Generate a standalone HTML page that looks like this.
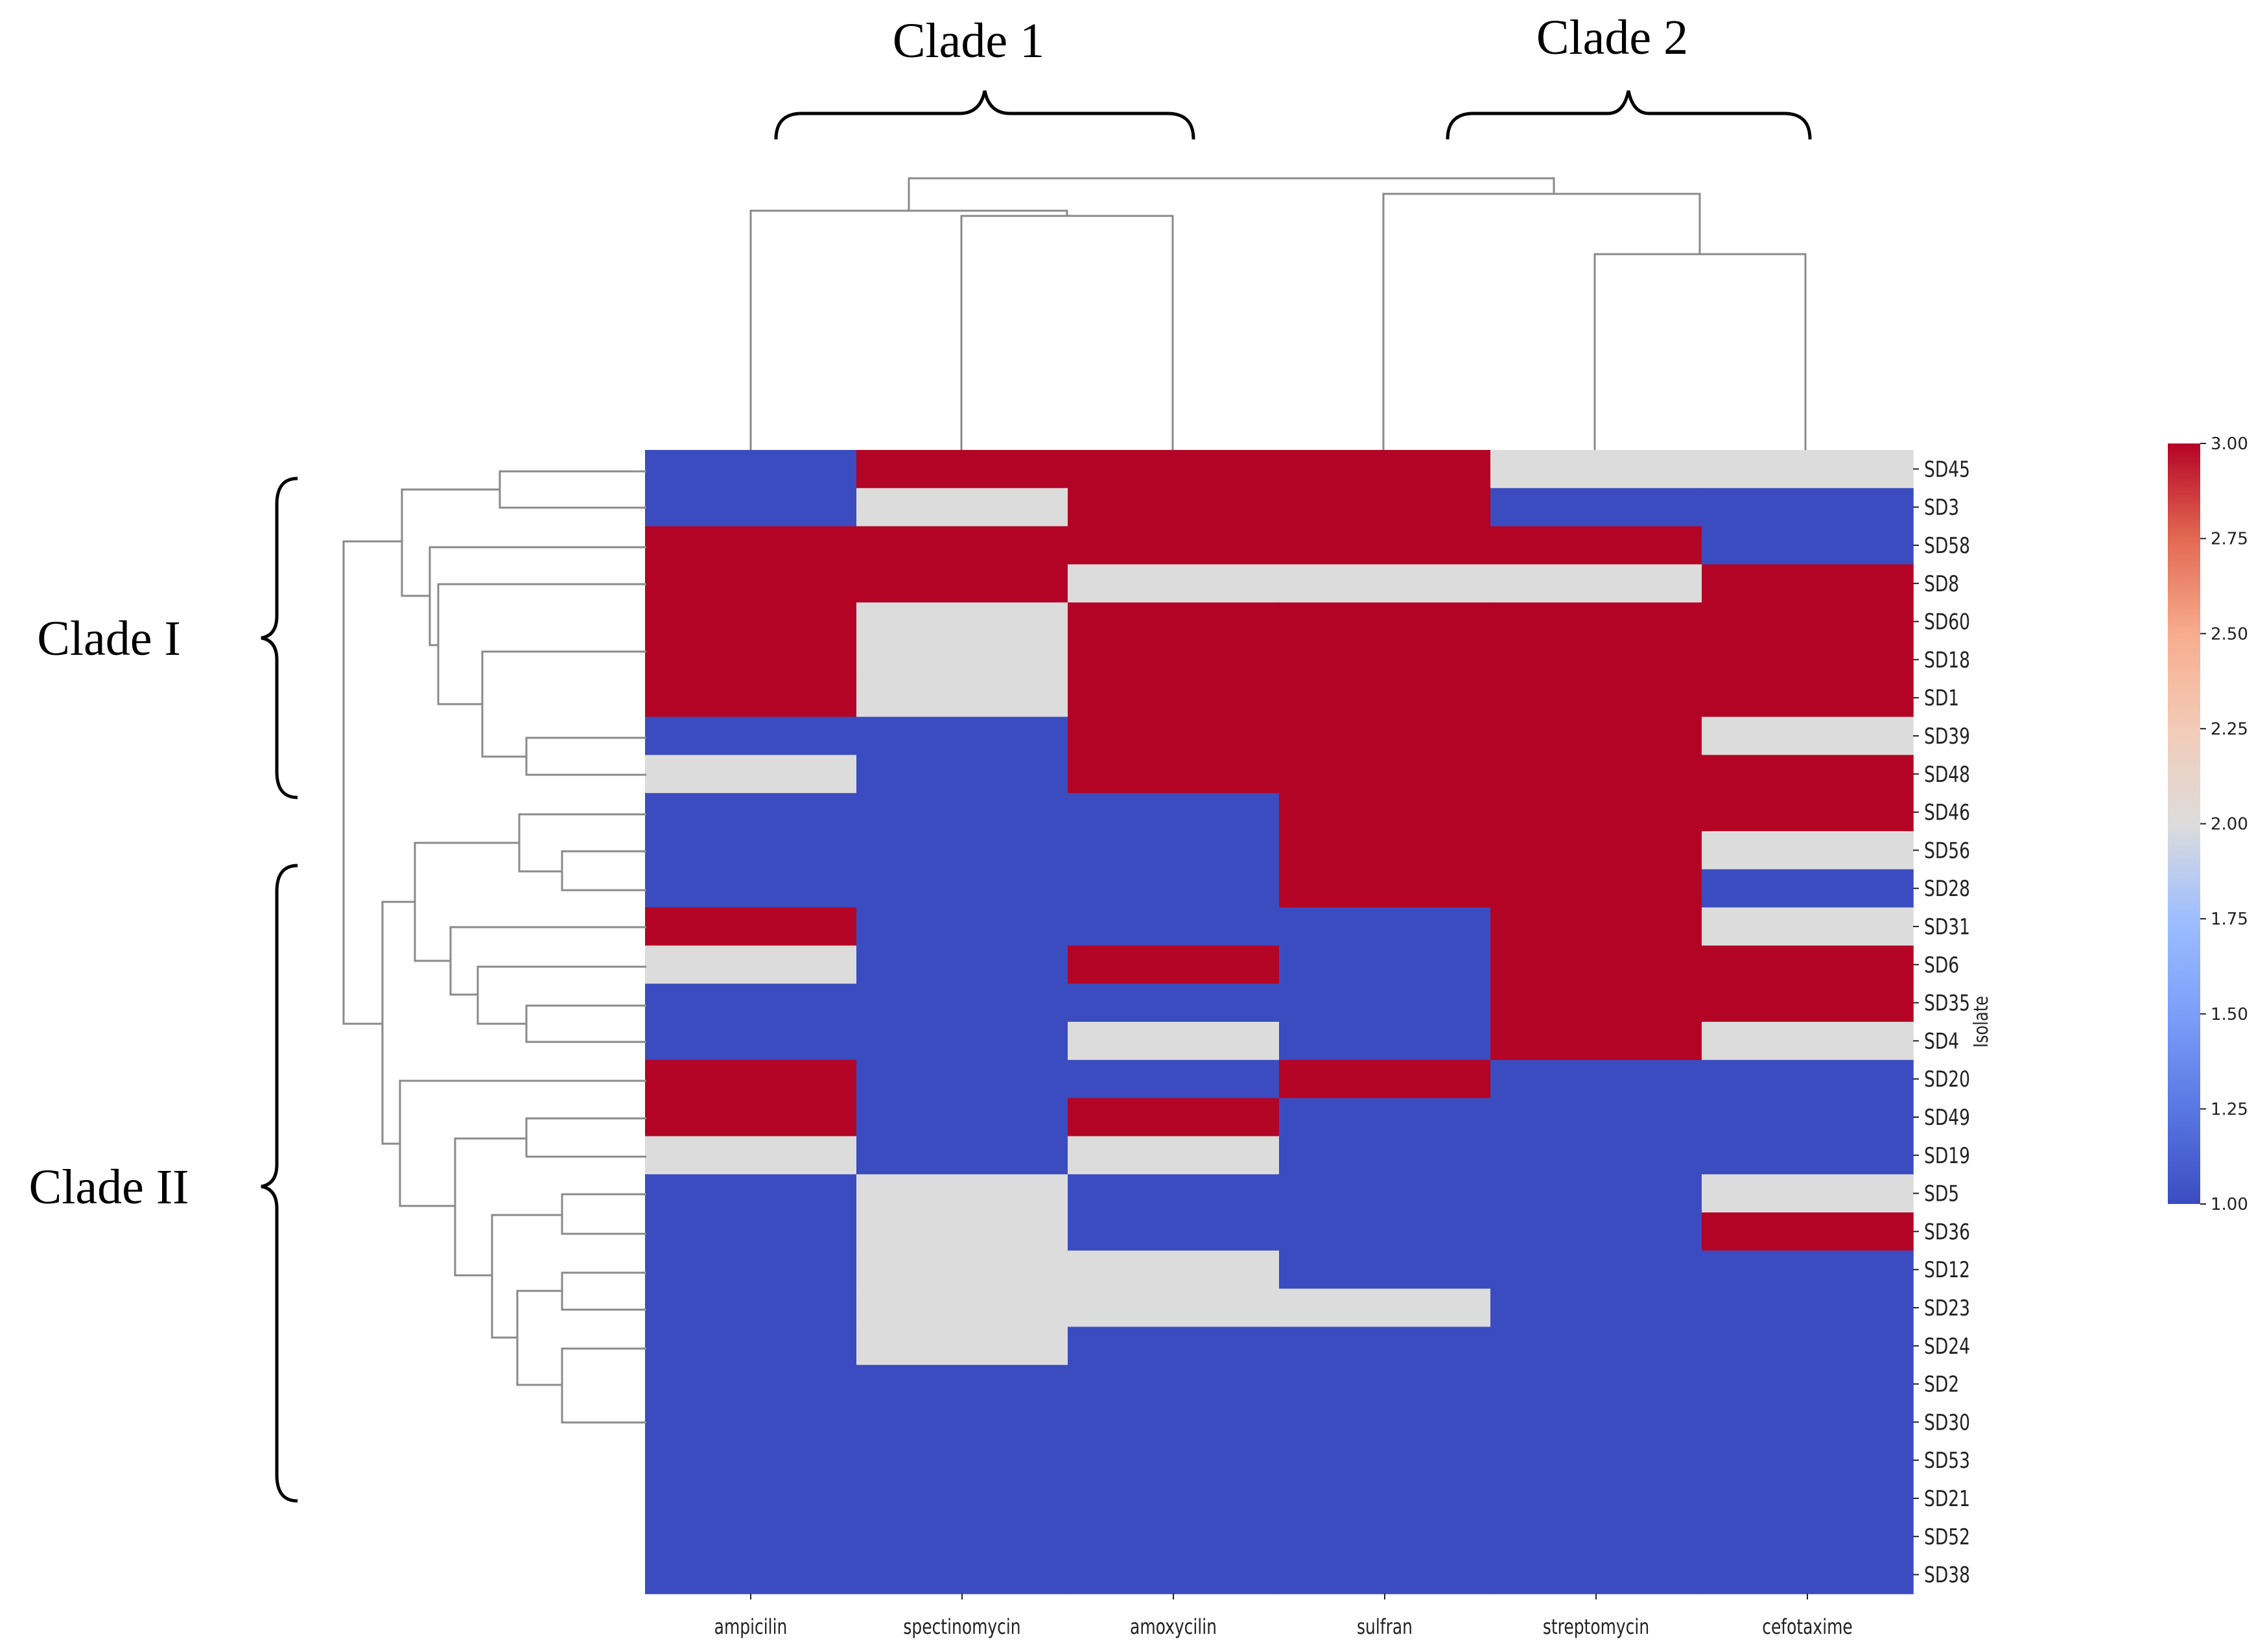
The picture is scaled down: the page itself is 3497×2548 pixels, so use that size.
<!DOCTYPE html>
<html><head><meta charset="utf-8"><style>
html,body{margin:0;padding:0;background:#fff;}
svg{display:block;}
.cond{font-family:"DejaVu Sans",sans-serif;}
</style></head><body>
<svg id="chart" width="3497" height="2548" viewBox="0 0 3497 2548" xmlns="http://www.w3.org/2000/svg">
<g id="heat"></g>
<g id="dendro" fill="none" stroke="#8a8a8a" stroke-width="3">
 <path d="
 M1158,694 V325 H1646 V333
 M1483,694 V333 H1809 V694
 M1402,325 V275 H2397 V299
 M2134,694 V299 H2622 V392
 M2460,694 V392 H2785 V694"/>
 <path d="
 M997,727 H771 V783 H997
 M771,755 H620 V919 H663
 M997,844 H663 V995 H676
 M997,901 H676 V1086 H744
 M997,1005 H744 V1167 H812
 M997,1138 H812 V1195 H997
 M620,835 H530 V1579 H590
 M997,1256 H801 V1344 H867
 M997,1313 H867 V1373 H997
 M801,1300 H640 V1482 H695
 M997,1430 H695 V1534 H737
 M997,1491 H737 V1579 H812
 M997,1551 H812 V1607 H997
 M640,1391 H590 V1764 H617
 M997,1667 H617 V1860 H702
 M997,1725 H812 V1784 H997
 M812,1756 H702 V1967 H759
 M997,1842 H867 V1903 H997
 M867,1874 H759 V2063 H798
 M997,1963 H867 V2020 H997
 M867,1991 H798 V2136 H867
 M997,2080 H867 V2194 H997"/>
</g>
<g id="labels" class="cond" fill="#222"></g>
<text class="cond" font-size="30" fill="#222" text-anchor="middle" transform="translate(3066 1576) rotate(-90) scale(0.8 1)">Isolate</text>
<defs><linearGradient id="cw" x1="0" y1="1" x2="0" y2="0">
<stop offset="0" stop-color="#3b4cc0"/><stop offset="0.125" stop-color="#5977e3"/><stop offset="0.25" stop-color="#7b9ff9"/><stop offset="0.375" stop-color="#9ebeff"/><stop offset="0.5" stop-color="#dddcdc"/><stop offset="0.625" stop-color="#f2cbb7"/><stop offset="0.75" stop-color="#f7ac8e"/><stop offset="0.875" stop-color="#e26952"/><stop offset="1" stop-color="#b40426"/>
</linearGradient></defs>
<g id="cbar">
<rect x="3344" y="684" width="50" height="1173" fill="url(#cw)"/>
</g>
<g font-family="Liberation Serif, serif" fill="#000">
<text x="1494" y="88" font-size="76" text-anchor="middle">Clade 1</text>
<text x="2487" y="83" font-size="76" text-anchor="middle">Clade 2</text>
<text x="168" y="1010" font-size="76" text-anchor="middle">Clade I</text>
<text x="168" y="1856" font-size="76" text-anchor="middle">Clade II</text>
<path fill="none" stroke="#000" stroke-width="5" d="M1197,215 Q1197,175 1237,175 H1480 Q1512,175 1519,140 Q1526,175 1558,175 H1801 Q1841,175 1841,215"/>
<path fill="none" stroke="#000" stroke-width="5" d="M2233,215 Q2233,175 2273,175 H2480 Q2505,175 2512,140 Q2519,175 2544,175 H2752 Q2792,175 2792,215"/>
<path fill="none" stroke="#000" stroke-width="5" d="M459,738 Q427,738 427,778 V950 Q427,980 403,984 Q427,988 427,1018 V1190 Q427,1230 459,1230"/>
<path fill="none" stroke="#000" stroke-width="5" d="M459,1335 Q427,1335 427,1375 V1796 Q427,1826 403,1830 Q427,1834 427,1864 V2275 Q427,2315 459,2315"/>
</g>
</svg>
<script>
const columns = ["ampicilin","spectinomycin","amoxycilin","sulfran","streptomycin","cefotaxime"];
const isolates = ["SD45","SD3","SD58","SD8","SD60","SD18","SD1","SD39","SD48","SD46","SD56","SD28","SD31","SD6","SD35","SD4","SD20","SD49","SD19","SD5","SD36","SD12","SD23","SD24","SD2","SD30","SD53","SD21","SD52","SD38"];
const values = [
[1,3,3,3,2,2],[1,2,3,3,1,1],[3,3,3,3,3,1],[3,3,2,2,2,3],[3,2,3,3,3,3],[3,2,3,3,3,3],
[3,2,3,3,3,3],[1,1,3,3,3,2],[2,1,3,3,3,3],[1,1,1,3,3,3],[1,1,1,3,3,2],[1,1,1,3,3,1],
[3,1,1,1,3,2],[2,1,3,1,3,3],[1,1,1,1,3,3],[1,1,2,1,3,2],[3,1,1,3,1,1],[3,1,3,1,1,1],
[2,1,2,1,1,1],[1,2,1,1,1,2],[1,2,1,1,1,3],[1,2,2,1,1,1],[1,2,2,2,1,1],[1,2,1,1,1,1],
[1,1,1,1,1,1],[1,1,1,1,1,1],[1,1,1,1,1,1],[1,1,1,1,1,1],[1,1,1,1,1,1],[1,1,1,1,1,1]];
const cbarTicks = [1.00,1.25,1.50,1.75,2.00,2.25,2.50,2.75,3.00];

const NS="http://www.w3.org/2000/svg";
const HX0=995, HX1=2951, HY0=694, HY1=2458;
const cw=(HX1-HX0)/columns.length, rh=(HY1-HY0)/isolates.length;
const xPos=i=>HX0+i*cw, yPos=j=>HY0+j*rh;
function color(v){ if(v>=2.5) return "#b40426"; if(v>=1.5) return "#dddcdc"; return "#3b4cc0"; }
const heat=document.getElementById('heat'), labels=document.getElementById('labels');
values.forEach((row,j)=>row.forEach((v,i)=>{
  const r=document.createElementNS(NS,'rect');
  r.setAttribute('x',xPos(i)); r.setAttribute('y',yPos(j));
  r.setAttribute('width',cw+0.8); r.setAttribute('height',rh+0.8);
  r.setAttribute('fill',color(v));
  
  
  heat.appendChild(r);
}));
columns.forEach((c,i)=>{
  const cx=xPos(i)+cw/2;
  const t=document.createElementNS(NS,'text');
  t.setAttribute('transform','translate('+cx+' 2520) scale(0.78 1)');
  t.setAttribute('font-size','32');
  t.setAttribute('text-anchor','middle'); t.textContent=c;
  
  
  labels.appendChild(t);
  const l=document.createElementNS(NS,'line');
  l.setAttribute('x1',cx); l.setAttribute('x2',cx); l.setAttribute('y1',HY1); l.setAttribute('y2',HY1+9);
  l.setAttribute('stroke','#222'); l.setAttribute('stroke-width','2');
  
  
  labels.appendChild(l);
});
isolates.forEach((s,j)=>{
  const cy=yPos(j)+rh/2;
  const t=document.createElementNS(NS,'text');
  t.setAttribute('transform','translate(2968 '+(cy+12)+') scale(0.78 1)');
  t.setAttribute('font-size','34');
  t.textContent=s;
  
  
  labels.appendChild(t);
  const l=document.createElementNS(NS,'line');
  l.setAttribute('x1',HX1); l.setAttribute('x2',HX1+9); l.setAttribute('y1',cy); l.setAttribute('y2',cy);
  l.setAttribute('stroke','#222'); l.setAttribute('stroke-width','2');
  
  
  labels.appendChild(l);
});
const cbar=document.getElementById('cbar');
const CB0=1857, CB1=684;
const cbY=v=>CB0+(v-1)/2*(CB1-CB0);
cbarTicks.forEach(v=>{
  const y=cbY(v);
  const l=document.createElementNS(NS,'line');
  l.setAttribute('x1',3394); l.setAttribute('x2',3403); l.setAttribute('y1',y); l.setAttribute('y2',y);
  l.setAttribute('stroke','#222'); l.setAttribute('stroke-width','2');
  
  
  cbar.appendChild(l);
  const t=document.createElementNS(NS,'text');
  t.setAttribute('x',3410); t.setAttribute('y',y+9); t.setAttribute('font-size','26');
  t.setAttribute('font-family','DejaVu Sans, sans-serif'); t.setAttribute('fill','#222');
  t.textContent=v.toFixed(2);
  
  
  cbar.appendChild(t);
});
</script>
</body></html>
